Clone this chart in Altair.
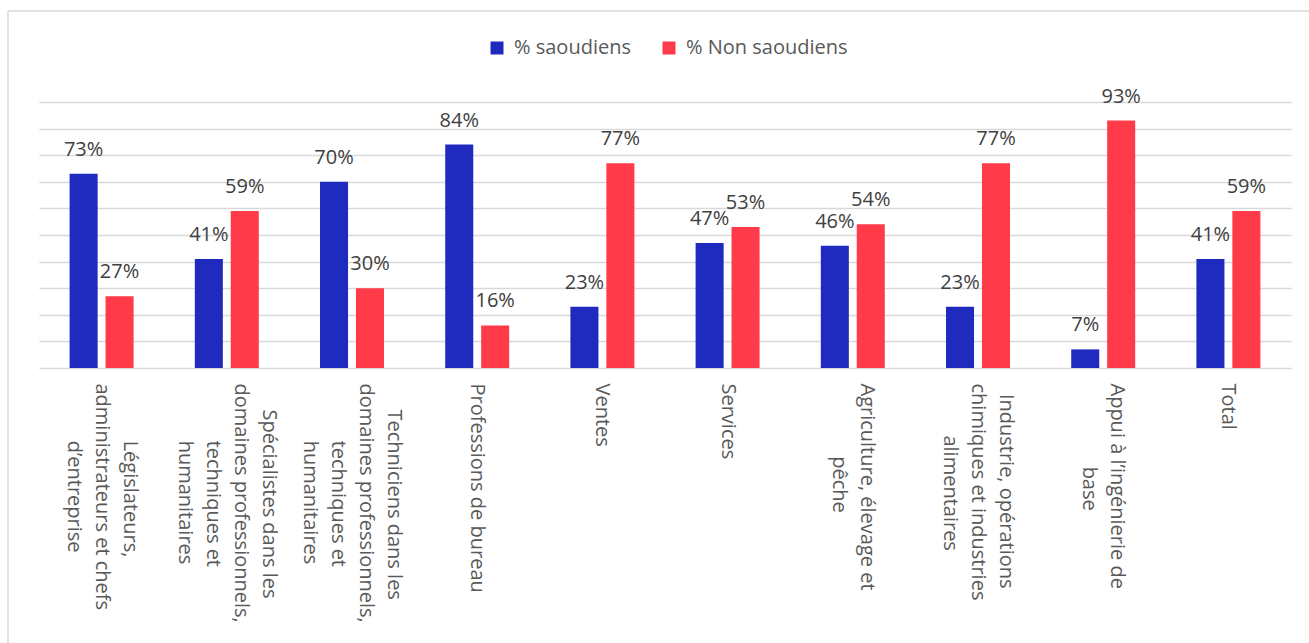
import altair as alt
import pandas as pd

# ---------------- data ----------------
categories = [
    ["Législateurs,", "administrateurs et chefs", "d’entreprise"],
    ["Spécialistes dans les", "domaines professionnels,", "techniques et", "humanitaires"],
    ["Techniciens dans les", "domaines professionnels,", "techniques et", "humanitaires"],
    ["Professions de bureau"],
    ["Ventes"],
    ["Services"],
    ["Agriculture, élevage et", "pêche"],
    ["Industrie, opérations", "chimiques et industries", "alimentaires"],
    ["Appui à l’ingénierie de", "base"],
    ["Total"],
]
saoudiens = [73, 41, 70, 84, 23, 47, 46, 23, 7, 41]
non_saoudiens = [27, 59, 30, 16, 77, 53, 54, 77, 93, 59]
series = ["% saoudiens", "% Non saoudiens"]
colors = ["#1F2BBE", "#FF3B4A"]

# approximate Open Sans advance widths (em) to centre the wrapped label lines
W = {
    'a': .556, 'b': .613, 'c': .476, 'd': .613, 'e': .561, 'f': .339, 'g': .548,
    'h': .614, 'i': .253, 'j': .253, 'k': .525, 'l': .253, 'm': .930, 'n': .614,
    'o': .604, 'p': .613, 'q': .613, 'r': .408, 's': .477, 't': .353, 'u': .614,
    'v': .501, 'w': .778, 'x': .524, 'y': .502, 'z': .477,
    'é': .561, 'è': .561, 'ê': .561, 'à': .556,
    'A': .633, 'I': .295, 'L': .521, 'P': .586, 'S': .536, 'T': .543, 'V': .608,
    ' ': .260, ',': .245, '’': .179, '\u00a0': .260,
}
ZW = '\u200b'  # keeps leading no-break spaces from being trimmed


def tw(s):
    return sum(W.get(ch, .55) for ch in s)


def centred(lines):
    m = max(tw(l) for l in lines)
    out = []
    for l in lines:
        n = int(round((m - tw(l)) / 2 / W['\u00a0']))
        out.append((ZW + '\u00a0' * n + l) if n > 0 else l)
    return "\n".join(out)


cat_labels = [centred(c) for c in categories]

rows = []
for c, s, n in zip(cat_labels, saoudiens, non_saoudiens):
    rows.append({"cat": c, "serie": series[0], "val": s, "lbl": f"{s}%"})
    rows.append({"cat": c, "serie": series[1], "val": n, "lbl": f"{n}%"})
df = pd.DataFrame(rows)

FONT = "Open Sans"
LH = 28

n_lines = "length(split(datum.value, '\\n'))"
label_offset = {
    "condition": [
        {"test": f"{n_lines} == 4", "value": 3 * LH / 2},
        {"test": f"{n_lines} == 3", "value": 2 * LH / 2},
        {"test": f"{n_lines} == 2", "value": 1 * LH / 2},
    ],
    "value": 0,
}

base = alt.Chart(df).encode(
    x=alt.X(
        "cat:N",
        sort=cat_labels,
        scale=alt.Scale(paddingInner=0.489, paddingOuter=0.2445),
        axis=alt.Axis(
            title=None,
            labelAngle=90,
            labelAlign="left",
            labelBaseline="middle",
            labelFont=FONT,
            labelFontSize=20,
            labelColor="#595959",
            labelLineHeight=LH,
            labelPadding=15,
            labelLimit=500,
            labelOverlap=False,
            labelOffset=label_offset,
            labelExpr="split(datum.label, '\\n')",
            ticks=False,
            tickSize=0,
            domain=False,
        ),
    ),
    xOffset=alt.XOffset("serie:N", sort=series,
                        scale=alt.Scale(paddingInner=0.22, paddingOuter=0)),
    y=alt.Y(
        "val:Q",
        scale=alt.Scale(domain=[0, 100]),
        axis=alt.Axis(
            title=None,
            values=list(range(0, 101, 10)),
            labels=False,
            ticks=False,
            domain=False,
            grid=True,
            gridColor="#D9D9D9",
            gridWidth=1.3,
        ),
    ),
)

bars = base.mark_bar().encode(
    color=alt.Color(
        "serie:N",
        sort=series,
        scale=alt.Scale(domain=series, range=colors),
        legend=alt.Legend(
            title=None,
            orient="none",
            direction="horizontal",
            legendX=448,
            legendY=-64,
            symbolType="square",
            symbolSize=169,
            symbolStrokeWidth=0,
            symbolOpacity=1,
            labelFont=FONT,
            labelFontSize=20,
            labelColor="#595959",
            labelOffset=7,
            columnPadding=28,
            labelLimit=400,
        ),
    )
)

text = base.mark_text(
    dy=-18, baseline="alphabetic", align="center",
    font=FONT, fontSize=20, color="#404040",
).encode(text="lbl:N")

frame_df = pd.DataFrame({"k": [0]})
frame_left = alt.Chart(frame_df).mark_rule(color="#D9D9D9", strokeWidth=1.5).encode(
    x=alt.value(-31), y=alt.value(-91), y2=alt.value(541)
)
frame_top = alt.Chart(frame_df).mark_rule(color="#D9D9D9", strokeWidth=1.5).encode(
    x=alt.value(-31), x2=alt.value(1270), y=alt.value(-91)
)

chart = alt.layer(frame_left, frame_top, bars, text).properties(
    width=1252,
    height=266,
    autosize=alt.AutoSizeParams(type="none"),
    padding={"left": 39, "top": 102, "right": 18, "bottom": 275},
    background="white",
).configure_view(stroke=None)

chart.save("out.html", embed_options={"renderer": "svg", "actions": False})
